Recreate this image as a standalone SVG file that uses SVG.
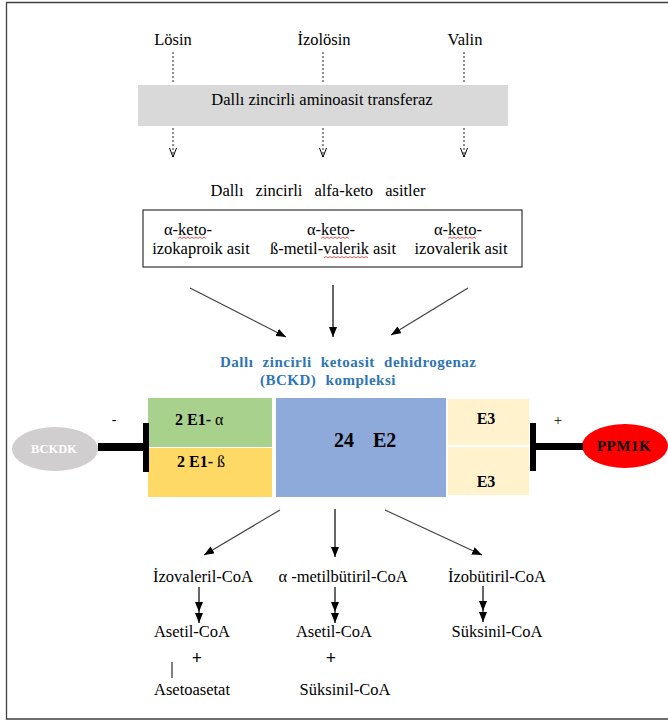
<svg xmlns="http://www.w3.org/2000/svg" width="668" height="722" viewBox="0 0 668 722">
<style>
text{font-family:"Liberation Serif","Times New Roman",serif;fill:#000}
.t{font-size:16.5px}
.c{text-anchor:middle}
.b{font-weight:bold}
.dash{stroke:#222;stroke-width:1;stroke-dasharray:2 2;fill:none}
.ar{stroke:#000;stroke-width:1.2;fill:none}
.ag{stroke:#404040;stroke-width:1.2;fill:none}
.sq{stroke:#e03030;stroke-width:0.8;fill:none}
.ttl{font-size:15px;font-weight:bold;fill:#2E75B6;letter-spacing:0.5px;word-spacing:5px}
.enz{font-size:16px;font-weight:bold}
</style>
<defs>
<marker id="ah" viewBox="0 0 10 8" refX="10" refY="4" markerWidth="10" markerHeight="8" orient="auto" markerUnits="userSpaceOnUse"><path d="M0,0L10,4L0,8z" fill="#000"/></marker>
<marker id="open" viewBox="0 0 9 8" refX="9" refY="4" markerWidth="9" markerHeight="8" orient="auto" markerUnits="userSpaceOnUse"><path d="M0,0.5L9,4L0,7.5" fill="none" stroke="#000" stroke-width="1"/></marker>
</defs>

<path d="M668,2.5H6.5V719H668" fill="none" stroke="#404040" stroke-width="1.3"/>

<g id="losin"><text class="t c" x="173" y="45">Lösin</text></g>
<g id="izolosin"><text class="t c" x="324" y="45">İzolösin</text></g>
<g id="valin"><text class="t c" x="465" y="45">Valin</text></g>

<g id="transferaz">
<rect x="138" y="85" width="370" height="41" fill="#d9d9d9"/>
<text class="t c" x="322" y="105">Dallı zincirli aminoasit transferaz</text>
</g>

<g id="ketoacids-title"><text class="t c" x="318" y="196" style="word-spacing:8px">Dallı zincirli alfa-keto asitler</text></g>

<g id="ketoacids">
<rect x="143" y="210" width="379" height="57" fill="#fff" stroke="#333" stroke-width="1.2"/>
<text class="t c" x="188" y="235">α-keto-</text>
<text class="t c" x="201" y="254">izokaproik asit</text>
<text class="t c" x="331" y="235">α-keto-</text>
<text class="t c" x="333" y="254">ß-metil-valerik asit</text>
<text class="t c" x="458" y="235">α-keto-</text>
<text class="t c" x="461" y="254">izovalerik asit</text>
<path class="sq" d="M178,238.5l2,-1.5 2,1.5 2,-1.5 2,1.5 2,-1.5 2,1.5 2,-1.5 2,1.5 2,-1.5 2,1.5 2,-1.5 2,1.5 2,-1.5 2,1.5"/>
<path class="sq" d="M321,238.5l2,-1.5 2,1.5 2,-1.5 2,1.5 2,-1.5 2,1.5 2,-1.5 2,1.5 2,-1.5 2,1.5 2,-1.5 2,1.5 2,-1.5 2,1.5"/>
<path class="sq" d="M448,238.5l2,-1.5 2,1.5 2,-1.5 2,1.5 2,-1.5 2,1.5 2,-1.5 2,1.5 2,-1.5 2,1.5 2,-1.5 2,1.5 2,-1.5 2,1.5"/>
<path class="sq" d="M324,258l2,-1.5 2,1.5 2,-1.5 2,1.5 2,-1.5 2,1.5 2,-1.5 2,1.5 2,-1.5 2,1.5 2,-1.5 2,1.5 2,-1.5 2,1.5 2,-1.5 2,1.5 2,-1.5 2,1.5 2,-1.5 2,1.5 2,-1.5 2,1.5"/>
</g>

<g id="bckd-title">
<text class="ttl" x="220" y="367">Dallı zincirli ketoasit dehidrogenaz</text>
<text class="ttl" x="260" y="385">(BCKD) kompleksi</text>
</g>

<g id="e1a"><rect x="148" y="398" width="124" height="49" fill="#a9d18e"/><text class="enz" x="175" y="425">2 E1- <tspan font-weight="normal">α</tspan></text></g>
<g id="e1b"><rect x="148" y="448" width="124" height="49" fill="#ffd966"/><text class="enz" x="177" y="467">2 E1- <tspan font-weight="normal">ß</tspan></text></g>
<g id="e2"><rect x="276" y="398" width="170" height="99" fill="#8eaadb"/><text x="334" y="447" style="font-size:20px;font-weight:bold;word-spacing:14px">24 E2</text></g>
<g id="e3a"><rect x="448" y="399" width="81" height="46" fill="#fff2cc"/><text class="enz c" x="486" y="424">E3</text></g>
<g id="e3b"><rect x="448" y="447" width="81" height="48" fill="#fff2cc"/><text class="enz c" x="486" y="487">E3</text></g>

<g id="bckdk">
<ellipse cx="55" cy="449" rx="43" ry="22" fill="#d0cece"/>
<text class="c" x="54" y="453" style="font-size:12.5px;font-weight:bold;fill:#fff">BCKDK</text>
</g>
<g id="ppm1k">
<ellipse cx="625" cy="446" rx="43" ry="22" fill="#ff0000"/>
<text class="c" x="624" y="451" style="font-size:15px;font-weight:bold;letter-spacing:0.5px">PPM1K</text>
</g>

<g id="connectors">
<line class="dash" x1="173" y1="52" x2="173" y2="83"/>
<line class="dash" x1="323" y1="52" x2="323" y2="83"/>
<line class="dash" x1="464" y1="52" x2="464" y2="83"/>
<line class="dash" x1="173" y1="128" x2="173" y2="157" marker-end="url(#open)"/>
<line class="dash" x1="323" y1="128" x2="323" y2="157" marker-end="url(#open)"/>
<line class="dash" x1="464" y1="128" x2="464" y2="157" marker-end="url(#open)"/>

<line class="ag" x1="190" y1="288" x2="286" y2="337" marker-end="url(#ah)"/>
<line class="ar" x1="333" y1="285" x2="333" y2="337" marker-end="url(#ah)"/>
<line class="ag" x1="468" y1="288" x2="391" y2="335" marker-end="url(#ah)"/>

<rect x="98" y="443" width="46" height="8" fill="#000"/>
<rect x="143" y="423" width="6" height="49" fill="#000"/>
<text x="114" y="424" class="c" style="font-size:14px">-</text>
<rect x="535" y="443" width="48" height="7" fill="#000"/>
<rect x="530" y="423" width="6" height="48" fill="#000"/>
<text x="558" y="425" class="c" style="font-size:15px">+</text>

<line class="ag" x1="280" y1="510" x2="204" y2="555" marker-end="url(#ah)"/>
<line class="ar" x1="335" y1="509" x2="335" y2="557" marker-end="url(#ah)"/>
<line class="ag" x1="385" y1="510" x2="482" y2="555" marker-end="url(#ah)"/>

<polyline class="ar" points="199,587 199,612 199,623" marker-mid="url(#ah)" marker-end="url(#ah)"/>
<polyline class="ar" points="335,587 335,612 335,623" marker-mid="url(#ah)" marker-end="url(#ah)"/>
<polyline class="ar" points="483,586 483,611 483,622" marker-mid="url(#ah)" marker-end="url(#ah)"/>
<line x1="172" y1="662" x2="172" y2="678" stroke="#000" stroke-width="1"/>
</g>

<g id="izovaleril"><text class="t c" x="203" y="582">İzovaleril-CoA</text></g>
<g id="metilbutiril"><text class="t c" x="343" y="582">α -metilbütiril-CoA</text></g>
<g id="izobutiril"><text class="t c" x="497" y="582">İzobütiril-CoA</text></g>
<g id="asetil1"><text class="t c" x="192" y="637">Asetil-CoA</text></g>
<g id="asetil2"><text class="t c" x="334" y="637">Asetil-CoA</text></g>
<g id="suksinil1"><text class="t c" x="497" y="637">Süksinil-CoA</text></g>
<g id="plus1"><text class="c b" x="197" y="664" style="font-size:18px">+</text></g>
<g id="plus2"><text class="c b" x="331" y="664" style="font-size:18px">+</text></g>
<g id="asetoasetat"><text class="t c" x="192" y="695">Asetoasetat</text></g>
<g id="suksinil2"><text class="t c" x="345" y="695">Süksinil-CoA</text></g>
</svg>
